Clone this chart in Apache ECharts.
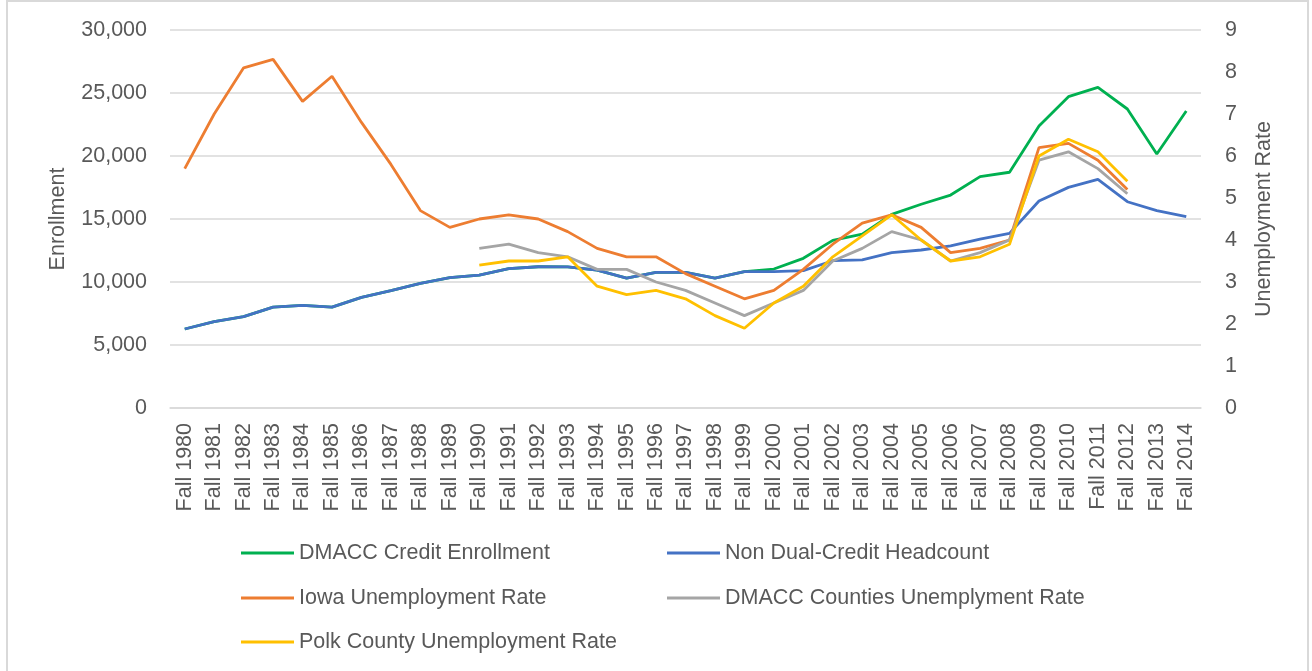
<!DOCTYPE html>
<html><head><meta charset="utf-8">
<script src="https://cdn.jsdelivr.net/npm/echarts@6/dist/echarts.min.js"></script>
<style>html,body{margin:0;padding:0;background:#fff}#c{width:1312px;height:671px}</style>
</head><body><div id="c"></div>
<script>
const years = [];
for (let y = 1980; y <= 2014; y++) years.push('Fall ' + y);

const creditEnrollment = [6270,6850,7250,8000,8150,8000,8780,9310,9890,10340,10540,11060,11210,11200,10950,10300,10770,10770,10300,10820,11030,11880,13300,13800,15370,16170,16900,18360,18710,22380,24710,25450,23730,20160,23570];
const nonDualHeadcount = [6270,6850,7250,8000,8150,8000,8780,9310,9890,10340,10540,11060,11210,11200,10950,10300,10770,10770,10300,10820,10820,10900,11690,11750,12330,12540,12860,13410,13860,16430,17510,18150,16370,15660,15180];
const iowaRate = [5.7,7.0,8.1,8.3,7.3,7.9,6.8,5.8,4.7,4.3,4.5,4.6,4.5,4.2,3.8,3.6,3.6,3.2,2.9,2.6,2.8,3.3,3.9,4.4,4.6,4.3,3.7,3.8,4.0,6.2,6.3,5.9,5.2,null,null];
const countiesRate = [null,null,null,null,null,null,null,null,null,null,3.8,3.9,3.7,3.6,3.3,3.3,3.0,2.8,2.5,2.2,2.5,2.8,3.5,3.8,4.2,4.0,3.5,3.7,4.0,5.9,6.1,5.7,5.1,null,null];
const polkRate = [null,null,null,null,null,null,null,null,null,null,3.4,3.5,3.5,3.6,2.9,2.7,2.8,2.6,2.2,1.9,2.5,2.9,3.6,4.1,4.6,4.0,3.5,3.6,3.9,6.0,6.4,6.1,5.4,null,null];

const names = ['DMACC Credit Enrollment','Non Dual-Credit Headcount','Iowa Unemployment Rate','DMACC Counties Unemplyment Rate','Polk County Unemployment Rate'];
const colors = ['#00B050','#4472C4','#ED7D31','#A5A5A5','#FFC000'];

const FONT = 'Liberation Sans, Arial, sans-serif';
const FS = 21.5;
const TXT = '#595959';
const GRID = '#D9D9D9';

function mkSeries(i, data, yIdx) {
  return {
    name: names[i], type: 'line', data: data, yAxisIndex: yIdx,
    showSymbol: false, symbol: 'none', connectNulls: false,
    color: colors[i],
    lineStyle: { color: colors[i], width: 2.8 },
    itemStyle: { color: colors[i] },
    emphasis: { disabled: true }, animation: false
  };
}

const legendPos = [[241,542],[667,542],[241,587],[667,587],[241,631]];
const legends = names.map((n, i) => ({
  data: [n], left: legendPos[i][0], top: legendPos[i][1], padding: 0,
  icon: 'rect', itemWidth: 53, itemHeight: 3, itemGap: 0,
  textStyle: { fontFamily: FONT, fontSize: FS, color: TXT },
  selectedMode: false
}));

const chart = echarts.init(document.getElementById('c'), null, { renderer: 'canvas' });
chart.setOption({
  animation: false,
  backgroundColor: '#fff',
  textStyle: { fontFamily: FONT },
  graphic: [{ type: 'rect', shape: { x: 7, y: 1, width: 1301, height: 672 }, style: { fill: 'none', stroke: GRID, lineWidth: 2 }, silent: true }],
  grid: { left: 170, right: 111, top: 30, bottom: 263, containLabel: false },
  legend: legends,
  xAxis: {
    type: 'category', data: years, boundaryGap: true,
    axisLine: { show: true, lineStyle: { color: GRID, width: 1.5 } },
    axisTick: { show: false },
    axisLabel: { rotate: 90, interval: 0, margin: 15, fontFamily: FONT, fontSize: FS, color: TXT }
  },
  yAxis: [{
    type: 'value', min: 0, max: 30000, interval: 5000,
    name: 'Enrollment', nameLocation: 'middle', nameRotate: 90, nameGap: 101,
    nameTextStyle: { fontFamily: FONT, fontSize: FS, color: TXT },
    axisLine: { show: false }, axisTick: { show: false },
    axisLabel: { margin: 23, fontFamily: FONT, fontSize: FS, color: TXT,
      formatter: v => v.toLocaleString('en-US') },
    splitLine: { show: true, lineStyle: { color: GRID, width: 1.5 } }
  }, {
    type: 'value', min: 0, max: 9, interval: 1, position: 'right',
    name: 'Unemployment Rate', nameLocation: 'middle', nameRotate: 90, nameGap: 52,
    nameTextStyle: { fontFamily: FONT, fontSize: FS, color: TXT },
    axisLine: { show: false }, axisTick: { show: false },
    axisLabel: { margin: 24, fontFamily: FONT, fontSize: FS, color: TXT },
    splitLine: { show: false }
  }],
  series: [
    mkSeries(0, creditEnrollment, 0),
    mkSeries(1, nonDualHeadcount, 0),
    mkSeries(2, iowaRate, 1),
    mkSeries(3, countiesRate, 1),
    mkSeries(4, polkRate, 1)
  ]
});
</script></body></html>
